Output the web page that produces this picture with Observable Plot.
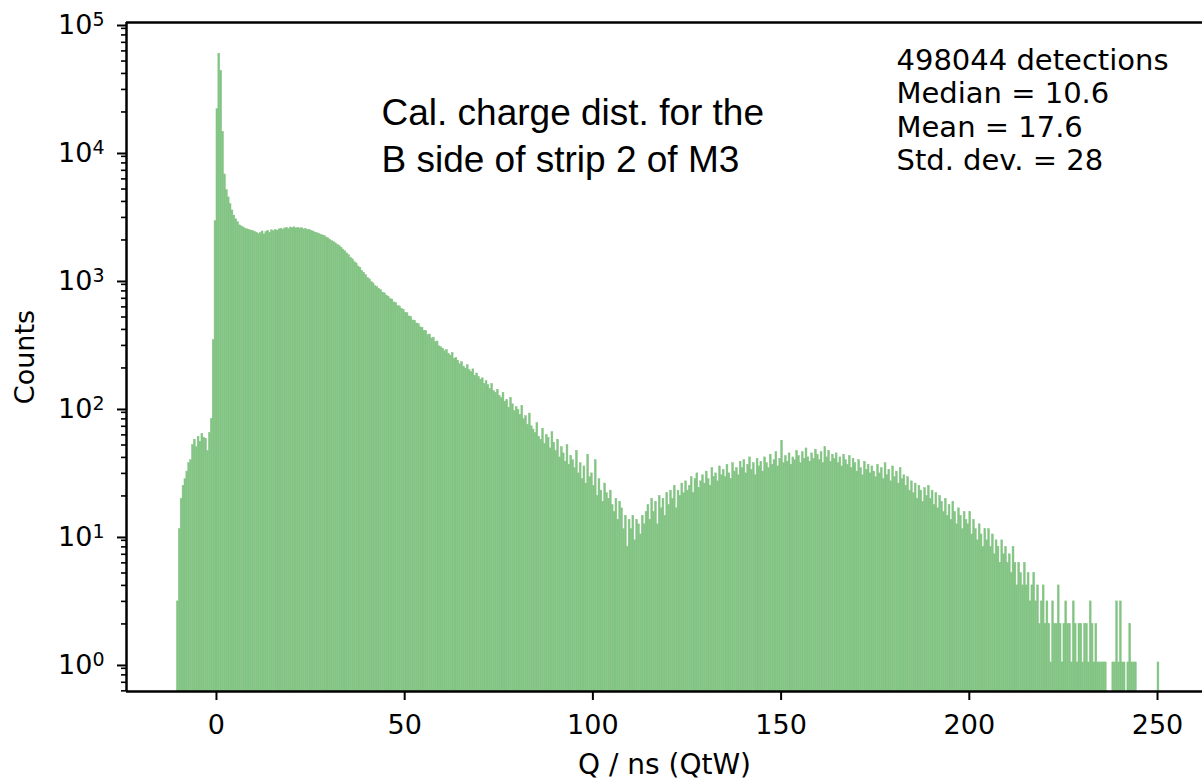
<!DOCTYPE html>
<html>
<head>
<meta charset="utf-8">
<script src="https://cdn.jsdelivr.net/npm/d3@7"></script>
<script src="https://cdn.jsdelivr.net/npm/@observablehq/plot@0.6"></script>
<style>
  html, body { margin: 0; padding: 0; background: #fff; }
  #chart svg { display: block; }
</style>
</head>
<body>
<div id="chart"></div>
<script>
// ---- Data ----
const qStart = -10.5;     // left edge of first bin (ns)
const binWidth = 0.5;     // bin width (ns)
const counts = [
  3, 11, 19, 24, 27, 31, 36, 38, 50, 55,
  48, 58, 53, 61, 57, 56, 45, 62, 80, 330,
  2800, 21000, 57000, 42000, 14000, 6500, 4900, 4300, 3800, 3400,
  3100, 2900, 2750, 2600, 2550, 2500, 2440, 2420, 2390, 2370,
  2350, 2310, 2280, 2220, 2260, 2330, 2210, 2300, 2350, 2280,
  2380, 2340, 2400, 2360, 2420, 2450, 2390, 2460, 2480, 2430,
  2500, 2470, 2510, 2460, 2490, 2450, 2470, 2420, 2440, 2390,
  2400, 2350, 2330, 2290, 2260, 2240, 2200, 2170, 2150, 2090,
  2060, 2000, 1960, 1920, 1880, 1830, 1790, 1740, 1680, 1630,
  1570, 1520, 1450, 1410, 1340, 1310, 1240, 1210, 1140, 1110,
  1060, 1010, 985, 935, 915, 870, 855, 825, 810, 775,
  765, 735, 720, 690, 685, 650, 645, 610, 605, 580,
  570, 540, 535, 505, 500, 470, 468, 445, 440, 415,
  412, 390, 388, 362, 365, 340, 345, 318, 322, 295,
  290, 282, 270, 276, 258, 250, 262, 236, 240, 228,
  214, 222, 205, 198, 210, 192, 186, 195, 174, 181,
  170, 162, 166, 150, 158, 147, 137, 150, 132, 128,
  135, 121, 116, 128, 109, 112, 98, 117, 104, 92,
  99, 94, 86, 101, 80, 84, 72, 88, 70, 66,
  62, 74, 58, 55, 67, 51, 60, 57, 47, 63,
  52, 45, 55, 40, 48, 43, 37, 50, 35, 41,
  38, 33, 45, 30, 36, 27, 34, 25, 42, 28,
  30, 24, 38, 20, 27, 22, 18, 25, 21, 19,
  22, 17, 15, 19, 13, 18, 16, 11, 14, 8,
  13, 11, 14, 9, 13, 12, 10, 14, 12, 15,
  17, 13, 19, 15, 18, 12, 20, 16, 19, 14,
  21, 17, 22, 19, 24, 16, 22, 20, 25, 21,
  26, 22, 24, 28, 21, 27, 30, 23, 26, 29,
  25, 31, 27, 24, 33, 28, 30, 26, 34, 29,
  32, 28, 35, 30, 27, 36, 31, 33, 29, 37,
  33, 38, 30, 35, 40, 32, 36, 29, 39, 34,
  37, 31, 40, 36, 33, 42, 35, 38, 44, 34,
  39, 54, 36, 41, 37, 43, 35, 40, 38, 45,
  41, 36, 44, 39, 47, 40, 37, 43, 39, 46,
  42, 38, 44, 36, 48, 40, 45, 37, 42, 39,
  43, 36, 40, 34, 42, 38, 35, 41, 33, 39,
  36, 31, 38, 33, 29, 37, 32, 35, 30, 34,
  31, 28, 35, 30, 33, 27, 36, 29, 32, 26,
  34, 28, 31, 25, 33, 27, 29, 24, 28, 22,
  26, 21, 25, 19, 24, 22, 18, 23, 20, 24,
  19, 22, 17, 21, 16, 20, 18, 15, 19, 14,
  17, 13, 18, 15, 12, 16, 14, 11, 15, 13,
  12, 15, 10, 13, 11, 9, 12, 10, 8, 11,
  9, 11, 8, 10, 7, 9, 8, 6, 9, 7,
  8, 6, 7, 5, 8, 6, 4, 6, 5, 4,
  6, 4, 5, 3, 4, 5, 3, 4, 2, 3,
  4, 2, 3, 2, 1, 3, 2, 2, 4, 2,
  1, 2, 3, 2, 2, 1, 3, 2, 1, 2,
  2, 1, 2, 2, 1, 3, 2, 1, 2, 1,
  1, 1, 1, 1, 0, 0, 0, 1, 1, 3,
  1, 3, 1, 1, 0, 1, 2, 1, 1, 1,
  0, 0, 0, 0, 0, 0, 0, 0, 0, 0,
  0, 1
];
const xTicks = [0, 50, 100, 150, 200, 250];
const yMajorTicks = [1, 10, 100, 1000, 10000, 100000];
const xDomain = [-23.9, 261.95];
const yDomain = [0.593, 100000];
const xLabel = "Q / ns (QtW)";
const yLabel = "Counts";
const annotation = "Cal. charge dist. for the\nB side of strip 2 of M3";
const stats = "498044 detections\nMedian = 10.6\nMean = 17.6\nStd. dev. = 28";
const barColor = "#83c484";

// ---- Derived tables ----
const bars = counts
  .map((c, i) => ({q0: qStart + i * binWidth, q1: qStart + (i + 1) * binWidth, count: c}))
  .filter(d => d.count > 0);

const yMinorTicks = [];
for (const dec of [0.1, 1, 10, 100, 1000, 10000]) {
  for (let m = 2; m <= 9; m++) {
    const v = m * dec;
    if (v >= yDomain[0] && v <= yDomain[1]) yMinorTicks.push(v);
  }
}

const chart = Plot.plot({
  width: 1202,
  height: 780,
  marginLeft: 126,
  marginRight: 0,
  marginTop: 22,
  marginBottom: 89,
  style: {fontFamily: "'DejaVu Sans', sans-serif", fontSize: "27px", color: "black", background: "white", overflow: "visible"},
  x: {domain: xDomain},
  y: {type: "log", domain: yDomain},
  marks: [
    Plot.rect(bars, {x1: "q0", x2: "q1", y1: () => yDomain[0], y2: "count", fill: barColor, stroke: barColor, strokeWidth: 0.45, clip: true}),
    Plot.ruleX([xDomain[0]], {stroke: "black", strokeWidth: 2.5}),
    Plot.ruleY([yDomain[0]], {stroke: "black", strokeWidth: 2.5}),
    Plot.ruleY([yDomain[1]], {stroke: "black", strokeWidth: 2.5}),
    Plot.axisX(xTicks, {anchor: "bottom", tickSize: 9, tickPadding: 14, strokeWidth: 2, fontSize: 27, label: null, tickFormat: d => String(d)}),
    Plot.axisY(yMajorTicks, {anchor: "left", tickSize: 9, tickPadding: 13, strokeWidth: 2, fontSize: 27, dy: 3, label: null,
      tickFormat: d => "10^" + Math.round(Math.log10(d))}),
    Plot.axisY(yMinorTicks, {anchor: "left", tickSize: 5, strokeWidth: 1.6, label: null, tickFormat: () => ""}),
    Plot.text([yLabel], {text: d => d, frameAnchor: "left", dx: -101, rotate: -90, fontSize: 27, textAnchor: "middle", lineAnchor: "middle", fill: "black"}),
    Plot.text([xLabel], {text: d => d, frameAnchor: "bottom", dy: 74, fontSize: 28, textAnchor: "middle", lineAnchor: "middle", fill: "black"}),
    Plot.text([annotation], {text: d => d, frameAnchor: "top-left", dx: 255, dy: 69, fontSize: 37, lineHeight: 1.27,
      textAnchor: "start", lineAnchor: "top", fontFamily: "'Liberation Sans', Arial, sans-serif", fill: "black"}),
    Plot.text([stats], {text: d => d, frameAnchor: "top-left", dx: 770, dy: 24, fontSize: 29, lineHeight: 1.148,
      textAnchor: "start", lineAnchor: "top", fill: "black"})
  ]
});

// superscript exponents on the y tick labels
d3.select(chart).selectAll('g[aria-label="y-axis tick label"] text').each(function () {
  const t = this.textContent;
  if (!t.includes("^")) return;
  const [base, exp] = t.split("^");
  const sel = d3.select(this);
  sel.text(null);
  sel.append("tspan").text(base);
  sel.append("tspan").attr("dy", -8).attr("font-size", 19).text(exp);
});

document.getElementById("chart").appendChild(chart);
</script>
</body>
</html>
